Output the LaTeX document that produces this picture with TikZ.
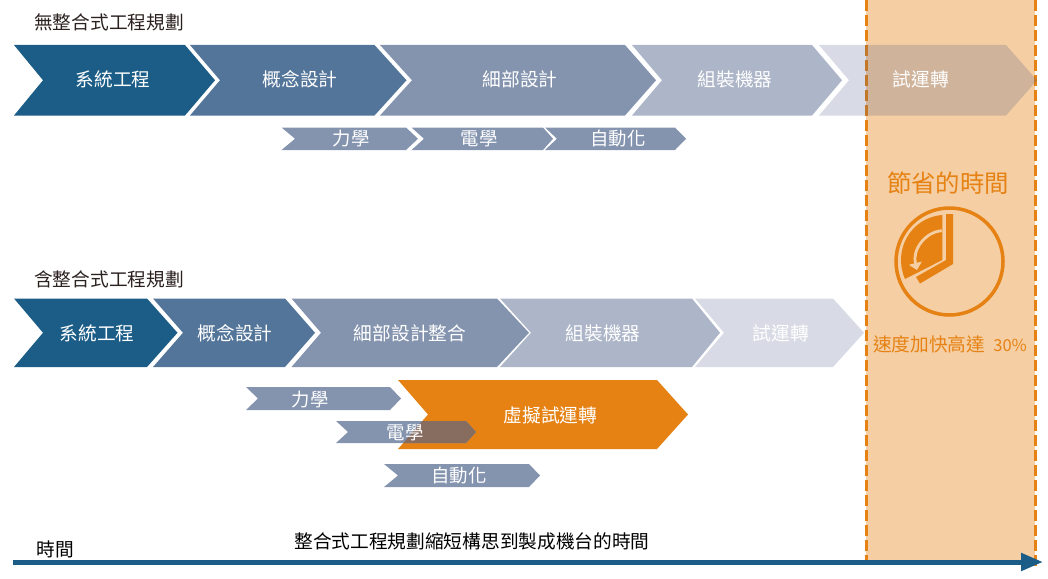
\documentclass[tikz,border=0pt]{standalone}
\usepackage{fontspec}
\setmainfont{Noto Sans CJK TC}
\usetikzlibrary{arrows.meta,positioning}
\definecolor{my_blue}{RGB}{27, 93, 135}
\definecolor{my_steel}{RGB}{83, 117, 153}
\definecolor{my_slate}{RGB}{132, 148, 175}
\definecolor{my_haze}{RGB}{173, 181, 200}
\definecolor{my_indigo}{RGB}{60, 75, 125}
\definecolor{my_orange}{RGB}{229, 130, 19}
\definecolor{my_panel}{RGB}{245, 206, 163}
\definecolor{my_mixed}{RGB}{135, 108, 96}
\definecolor{my_ink}{RGB}{43, 34, 32}
\tikzset{
  treetext/.style = {inner sep=0pt, text centered, font=\fontsize{18.7}{20}\selectfont},
  head_t/.style = {treetext, text=my_ink},
  chev_t/.style = {treetext, text=white},
  sub_t/.style = {chev_t, font=\fontsize{18.4}{20}\selectfont},
  save_t/.style = {treetext, text=my_orange}
}
\newcommand{\chevron}[7]{
  \fill[#1] (#2,#6) -- (#4,#6) -- (#5,{(#6+#7)/2}) -- (#4,#7) -- (#2,#7) -- (#3,{(#6+#7)/2}) -- cycle;
}
\begin{document}
\begin{tikzpicture}[x=1pt,y=-1pt,
        	limit/.style={draw=my_orange, line width=3pt, dash pattern=on 11pt off 4pt},
        	timeline/.style={draw=my_blue, line width=5pt, -{Triangle[length=22pt,width=17pt]}}]
            \useasboundingbox (0,0) rectangle (1048,578);
            \fill[my_panel] (866,0) rectangle (1035,560);
            \coordinate (left_top) at (866.5,0);
            \coordinate (left_end) at (866.5,560);
            \coordinate (right_top) at (1035,0);
            \coordinate (right_end) at (1035,566);
            \draw[limit] (left_top) -- (left_end);
            \draw[limit] (right_top) -- (right_end);

            \chevron{my_blue}{14}{43}{185}{215}{45}{115.5}
            \chevron{my_steel}{190}{220}{374.5}{406.5}{45}{115.5}
            \chevron{my_slate}{380}{412}{625}{656}{45}{115.5}
            \chevron{my_haze}{632}{662}{812}{842}{45}{115.5}
            \chevron{my_indigo, fill opacity=0.2}{819}{849}{1006}{1037}{45}{115.5}
            \chevron{my_slate}{281.5}{295}{406}{418}{127.5}{150}
            \chevron{my_slate}{411.5}{424}{543}{553}{127.5}{150}
            \chevron{my_slate}{545}{557}{675}{686}{127.5}{150}

            \chevron{my_blue}{14}{43}{147}{177.5}{298.5}{367}
            \chevron{my_steel}{153}{183}{285}{315}{298.5}{367}
            \chevron{my_slate}{291.5}{321}{497}{529}{298.5}{367}
            \chevron{my_haze}{500}{531}{692}{720}{298.5}{367}
            \chevron{my_indigo, fill opacity=0.2}{695}{724}{833}{864}{298.5}{367}

            \chevron{my_slate}{246}{258}{390}{401}{387}{410}
            \chevron{my_orange}{398}{428}{657}{688}{380}{449}
            \chevron{my_slate}{336}{348}{466}{476}{421}{443}
            \begin{scope}
            \clip (398,380) -- (657,380) -- (688,414.5) -- (657,449) -- (398,449) -- (428,414.5) -- cycle;
            \chevron{my_mixed}{336}{348}{466}{476}{421}{443}
            \end{scope}
            \chevron{my_slate}{384}{398}{529}{540}{464}{487}

            \node [head_t] (plain_head) at (109,22) {無整合式工程規劃};
            \node [head_t] (merged_head) at (109,279) {含整合式工程規劃};

            \node [chev_t] (plain_sys) at (113,79.5) {系統工程};
            \node [chev_t] (plain_idea) at (300,79.5) {概念設計};
            \node [chev_t] (plain_detail) at (520,79.5) {細部設計};
            \node [chev_t] (plain_build) at (735,79.5) {組裝機器};
            \node [chev_t] (plain_run) at (921,79.5) {試運轉};
            \node [sub_t] (plain_mech) at (351,138.5) {力學};
            \node [sub_t] (plain_elec) at (479,138.5) {電學};
            \node [sub_t] (plain_auto) at (618,138.5) {自動化};

            \node [chev_t] (merged_sys) at (97,333) {系統工程};
            \node [chev_t] (merged_idea) at (235,333) {概念設計};
            \node [chev_t] (merged_detail) at (410,333) {細部設計整合};
            \node [chev_t] (merged_build) at (603,333.5) {組裝機器};
            \node [chev_t] (merged_run) at (781,333.5) {試運轉};
            \node [sub_t] (merged_mech) at (310,399.5) {力學};
            \node [sub_t] (merged_elec) at (405,432.5) {電學};
            \node [sub_t] (merged_auto) at (459,476) {自動化};
            \node [chev_t] (merged_virtual) at (550.5,415) {虛擬試運轉};

            \node [save_t, font=\fontsize{24.4}{26}\selectfont] (saved_head) at (948,183) {節省的時間};
            \node [save_t] (saved_rate) at (950,344) {速度加快高達\hspace{8pt}{\fontsize{16.5}{20}\selectfont 30\%}};

            \node [draw=my_orange, line width=3.5pt, circle, minimum size=107pt, inner sep=0pt] (clock) at (949.5,261.5) {};
            \fill[my_orange] (942.3,215) .. controls (910.7,217.5) and (892.4,250.2) .. (905,279) -- (942.3,260) -- cycle;
            \fill[my_orange] (946,214) -- (953,214) -- (953,264) -- (920,283.5) -- (916,277) -- (946,260) -- cycle;
            \draw[my_panel, line width=2.8pt, -{Triangle[length=7pt,width=13pt]}] (941.7,230.7) .. controls (925,232) and (912,250) .. (917,270);

            \node [head_t, text=black] (time_word) at (55,549) {時間};
            \node [head_t, text=black] (time_note) at (472,541) {整合式工程規劃縮短構思到製成機台的時間};
            \coordinate (time_start) at (13,562);
            \coordinate (time_end) at (1043,562);
            \draw[timeline] (time_start) -- (time_end);
        \end{tikzpicture}
\end{document}
